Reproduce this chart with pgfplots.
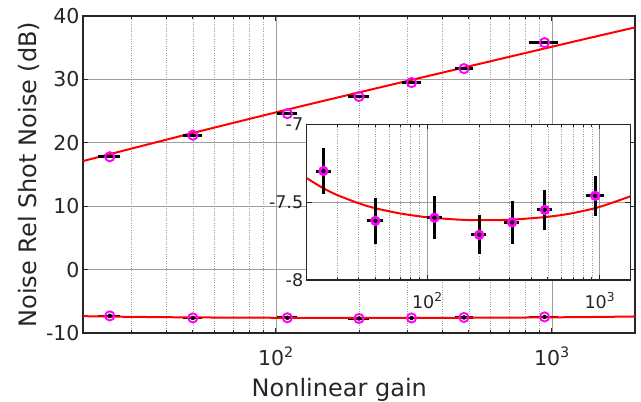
\documentclass[border=0pt]{standalone}
\usepackage{pgfplots}
\pgfplotsset{compat=1.18}
\usepackage{fontspec}
\setmainfont{DejaVu Sans}
\definecolor{axgray}{rgb}{0.15,0.15,0.15}
\definecolor{gridgray}{rgb}{0.62,0.62,0.62}
\definecolor{fitred}{rgb}{1,0,0}
\definecolor{mag}{rgb}{1,0,1}
\begin{document}
\begin{tikzpicture}
\useasboundingbox (-83bp,-69bp) rectangle (558bp,333bp);
\begin{axis}[
  at={(0,0)}, anchor=south west,
  scale only axis, width=552bp, height=317bp,
  xmode=log, xmin=20, xmax=2000, ymin=-10, ymax=40,
  xtick={100,1000}, xticklabels={10\textsuperscript{2},10\textsuperscript{3}},
  minor xtick={20,30,40,50,60,70,80,90,200,300,400,500,600,700,800,900,2000},
  ytick={-10,0,10,20,30,40}, yticklabels={-10,0,10,20,30,40},
  grid=both,
  major grid style={gridgray, line width=0.8bp},
  minor grid style={gridgray, dotted, line width=0.6bp},
  axis line style={axgray, line width=1.2bp},
  tick style={axgray, line width=1bp},
  major tick length=5bp, minor tick length=3bp,
  tick align=inside,
  tick label style={font=\fontsize{20.5bp}{24bp}\selectfont, text=axgray},
  xticklabel style={anchor=base, yshift=-32bp},
]
% upper fit line
\addplot[fitred, line width=2bp, smooth] coordinates {(20,17.12) (50,21.55) (145,26.5) (1000,35.15) (2000,38.2)};
% upper data
\addplot[only marks, mark=o, mark size=4.6bp, mark options={draw=mag, line width=1.9bp},
  error bars/.cd, x dir=both, x explicit relative, error mark=none,
  error bar style={black, line width=3bp}]
  coordinates {
  (25,17.8) +- (0.09,0)
  (50,21.2) +- (0.08,0)
  (110,24.6) +- (0.08,0)
  (200,27.3) +- (0.09,0)
  (310,29.5) +- (0.08,0)
  (480,31.7) +- (0.075,0)
  (940,35.8) +- (0.12,0)
  };
% lower data error bars
\addplot[only marks, mark=none,
  error bars/.cd, x dir=both, x explicit relative, error mark=none,
  error bar style={black, line width=2.6bp}]
  coordinates {
  (25,-7.30) +- (0.09,0)
  (50,-7.62) +- (0.08,0)
  (110,-7.60) +- (0.08,0)
  (200,-7.71) +- (0.09,0)
  (310,-7.63) +- (0.08,0)
  (480,-7.55) +- (0.075,0)
  (940,-7.46) +- (0.12,0)
  };
% lower fit
\addplot[fitred, line width=2bp, smooth] coordinates {
  (20,-7.346) (25,-7.411) (30,-7.454) (40,-7.507) (50,-7.539) (70,-7.573)
  (100,-7.597) (150,-7.612) (200,-7.616) (300,-7.613) (500,-7.594)
  (700,-7.570) (1000,-7.530) (1500,-7.463) (2000,-7.394)};
% lower circles
\addplot[only marks, mark=o, mark size=4.6bp, mark options={draw=mag, line width=1.9bp}]
  coordinates {(25,-7.30) (50,-7.62) (110,-7.60) (200,-7.71) (310,-7.63) (480,-7.55) (940,-7.46)};
\end{axis}

\begin{axis}[
  at={(223.7bp,53bp)}, anchor=south west,
  scale only axis, width=323.5bp, height=155.7bp,
  xmode=log, xmin=20, xmax=1500, ymin=-8, ymax=-7,
  xtick={100,1000}, xticklabels={10\textsuperscript{2},10\textsuperscript{3}},
  minor xtick={20,30,40,50,60,70,80,90,200,300,400,500,600,700,800,900},
  ytick={-8,-7.5,-7}, yticklabels={-8,-7.5,-7},
  axis background/.style={fill=white},
  grid=both,
  major grid style={gridgray, line width=0.8bp},
  minor grid style={gridgray, dotted, line width=0.6bp},
  axis line style={axgray, line width=1.2bp},
  tick style={axgray, line width=1bp},
  major tick length=5bp, minor tick length=3bp,
  tick align=inside,
  tick label style={font=\fontsize{17.5bp}{21bp}\selectfont, text=axgray},
  xticklabel style={anchor=base, yshift=-28bp},
]
\addplot[fitred, line width=2bp, smooth] coordinates {
  (20,-7.346) (25,-7.411) (30,-7.454) (40,-7.507) (50,-7.539) (70,-7.573)
  (100,-7.597) (150,-7.612) (200,-7.616) (300,-7.613) (500,-7.594)
  (700,-7.570) (1000,-7.530) (1500,-7.463)};
\addplot[only marks, mark=o, mark size=3.8bp, mark options={draw=mag, line width=2.6bp},
  error bars/.cd, x dir=both, x explicit relative, y dir=both, y explicit, error mark=none,
  error bar style={black, line width=3bp}]
  coordinates {
  (25,-7.30) +- (0.10,0.146)
  (50,-7.62) +- (0.10,0.146)
  (110,-7.60) +- (0.10,0.137)
  (200,-7.71) +- (0.10,0.126)
  (310,-7.63) +- (0.10,0.139)
  (480,-7.55) +- (0.10,0.127)
  (940,-7.46) +- (0.12,0.126)
  };
\end{axis}

\node[anchor=base, inner sep=0pt, font=\fontsize{24bp}{28bp}\selectfont, text=axgray] at (256.3bp,-63bp) {Nonlinear gain};
\node[rotate=90, anchor=base, inner sep=0pt, font=\fontsize{24bp}{28bp}\selectfont, text=axgray] at (-46.3bp,158.5bp) {Noise Rel Shot Noise (dB)};
\end{tikzpicture}
\end{document}
